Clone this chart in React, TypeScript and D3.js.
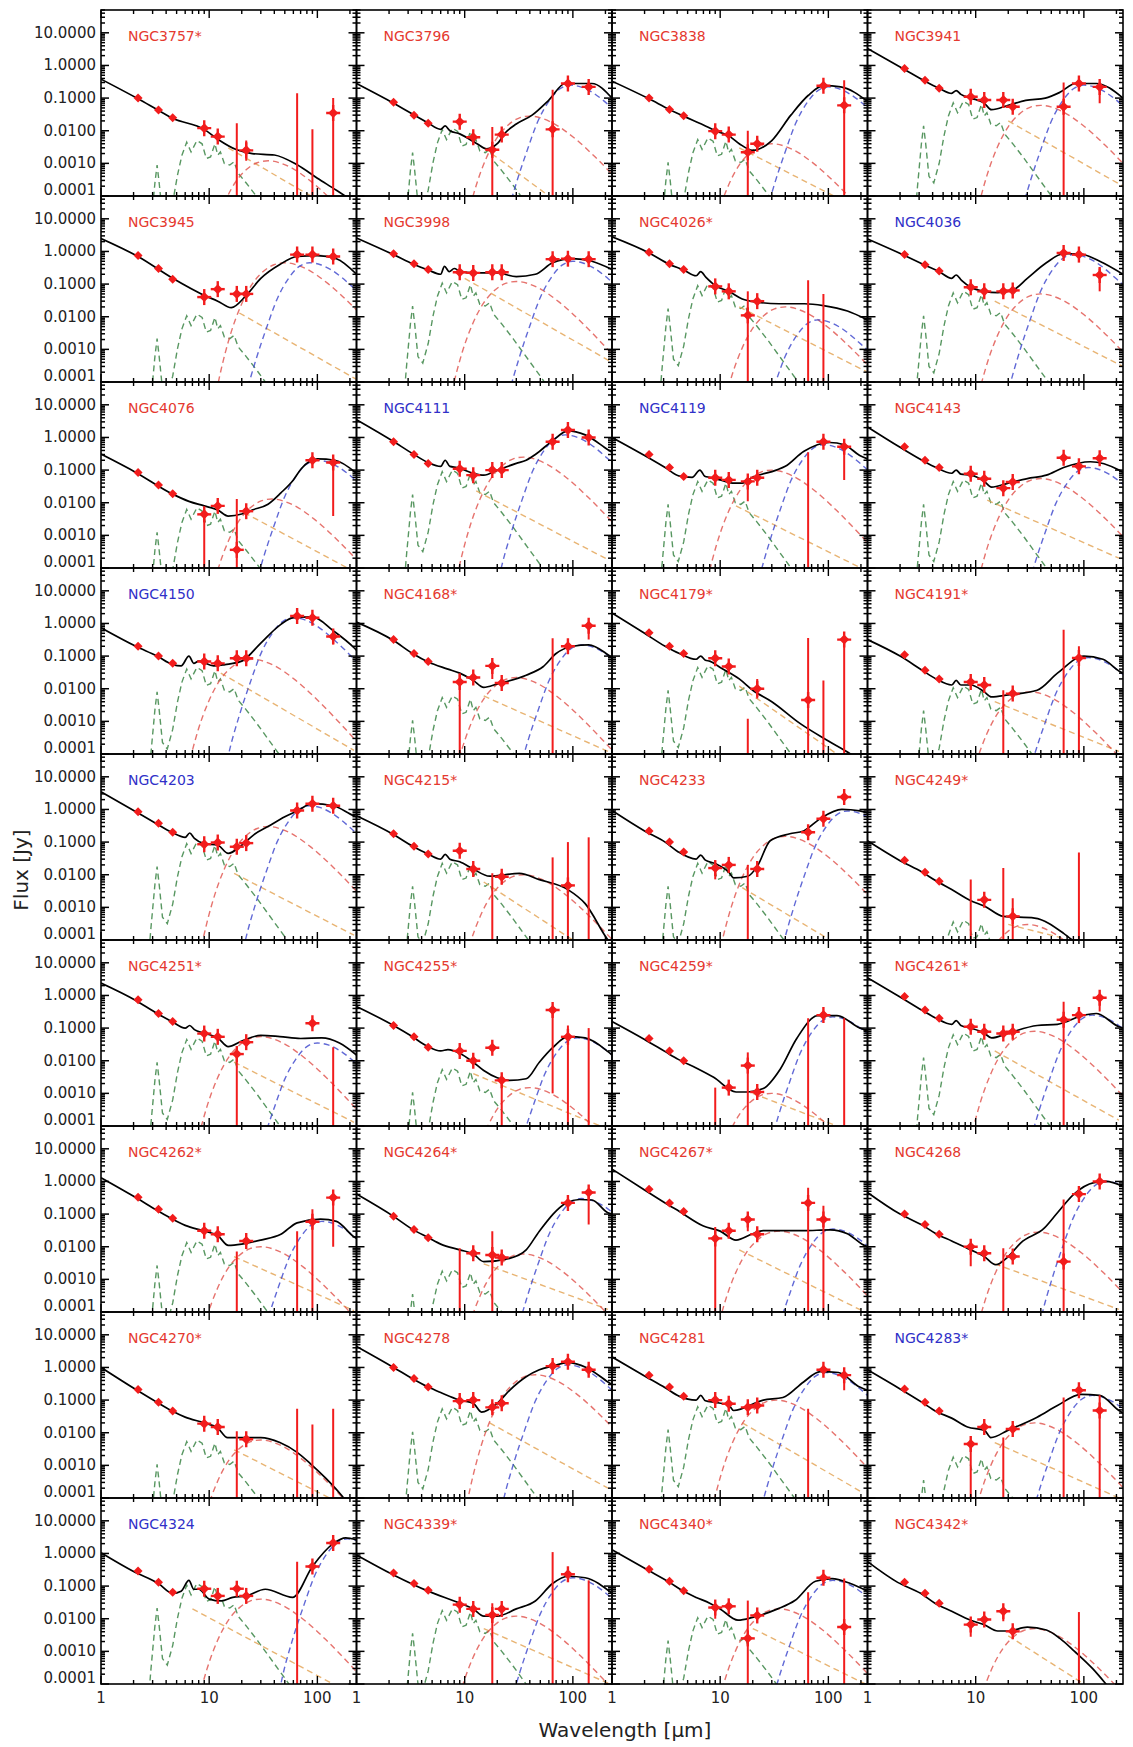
import React from "react";
import * as d3 from "d3";

// galaxy names, row by row
const galaxies = [
  "NGC3757*", "NGC3796", "NGC3838", "NGC3941",
  "NGC3945", "NGC3998", "NGC4026*", "NGC4036",
  "NGC4076", "NGC4111", "NGC4119", "NGC4143",
  "NGC4150", "NGC4168*", "NGC4179*", "NGC4191*",
  "NGC4203", "NGC4215*", "NGC4233", "NGC4249*",
  "NGC4251*", "NGC4255*", "NGC4259*", "NGC4261*",
  "NGC4262*", "NGC4264*", "NGC4267*", "NGC4268",
  "NGC4270*", "NGC4278", "NGC4281", "NGC4283*",
  "NGC4324", "NGC4339*", "NGC4340*", "NGC4342*",
];
const blueGalaxies = ["NGC4036", "NGC4111", "NGC4119", "NGC4150", "NGC4203", "NGC4283*", "NGC4324"];

// photometry: [wavelength um, flux Jy | null, bar low (0 = axis) | null, bar high | null]
type Phot = (number | null)[];
const photometry: Phot[][] = [
  [[2.2,0.1],[3.4,0.043],[4.6,0.025],[9,0.012],[12,0.0066],[18,null,0,0.017],[22,0.0025,0.0012,0.005],[65,null,0,0.14],[90,null,0,0.011],[140,0.035,0,0.1]],
  [[2.2,0.075],[3.4,0.03],[4.6,0.017],[9,0.019],[12,0.0063],[18,0.0026,0,0.013],[22,0.0076],[65,0.011,0,0.18],[90,0.28],[140,0.22]],
  [[2.2,0.1],[3.4,0.045],[4.6,0.029],[9,0.0097],[12,0.0076],[18,0.0022,0,0.01],[22,0.004],[90,0.24],[140,0.06,0,0.35]],
  [[2.2,0.8],[3.4,0.35],[4.6,0.2],[9,0.11],[12,0.087],[18,0.087],[22,0.054],[65,0.054,0,0.3],[90,0.28],[140,0.22,0.07,0.3]],
  [[2.2,0.75],[3.4,0.3],[4.6,0.14],[9,0.04],[12,0.07],[18,0.05],[22,0.05],[65,0.8],[90,0.8],[140,0.7]],
  [[2.2,0.85],[3.4,0.42],[4.6,0.28],[9,0.23],[12,0.22],[18,0.23],[22,0.23],[65,0.58],[90,0.6],[140,0.58]],
  [[2.2,0.94],[3.4,0.42],[4.6,0.28],[9,0.085],[12,0.06],[18,0.011,0,0.06],[22,0.03],[65,null,0,0.13],[90,null,0,0.05]],
  [[2.2,0.8],[3.4,0.39],[4.6,0.25],[9,0.08],[12,0.06],[18,0.06],[22,0.064],[65,0.9],[90,0.8],[140,0.19,0.06,0.3]],
  [[2.2,0.085],[3.4,0.035],[4.6,0.019],[9,0.0044,0,0.006],[12,0.008],[18,0.00036,0,0.013],[22,0.0055],[90,0.2],[140,0.17,0.0039,0.2]],
  [[2.2,0.74],[3.4,0.3],[4.6,0.16],[9,0.11],[12,0.07],[18,0.1],[22,0.1],[65,0.74],[90,1.7],[140,1.0]],
  [[2.2,0.3],[3.4,0.12],[4.6,0.064],[9,0.058],[12,0.05],[18,0.045,0.011,null],[22,0.058],[65,null,0,0.35],[90,0.74],[140,0.52,0.05,null]],
  [[2.2,0.52],[3.4,0.2],[4.6,0.12],[9,0.077],[12,0.054],[18,0.028],[22,0.043],[65,0.24],[90,0.13],[140,0.23]],
  [[2.2,0.2],[3.4,0.1],[4.6,0.06],[9,0.068],[12,0.06],[18,0.086],[22,0.086],[65,1.7],[90,1.5],[140,0.4,0.23,null]],
  [[2.2,0.32],[3.4,0.12],[4.6,0.068],[9,0.016,0,0.03],[12,0.022],[18,0.05,0.02,null],[22,0.015],[65,null,0,0.35],[90,0.2],[140,0.85,0.32,null]],
  [[2.2,0.52],[3.4,0.2],[4.6,0.12],[9,0.086],[12,0.048],[18,null,0,0.0012],[22,0.01,0.005,0.02],[65,0.0045,0,0.36],[90,null,0,0.018],[140,0.32,0,0.4]],
  [[2.2,0.11],[3.4,0.037],[4.6,0.02],[9,0.016],[12,0.013],[18,null,0,0.009],[22,0.0071],[65,null,0,0.64],[90,0.087,0,0.2]],
  [[2.2,0.85],[3.4,0.38],[4.6,0.2],[9,0.086],[12,0.097],[18,0.072],[22,0.093],[65,0.93],[90,1.5],[140,1.3]],
  [[2.2,0.18],[3.4,0.074],[4.6,0.043],[9,0.054],[12,0.015],[18,null,0,0.011],[22,0.0087],[65,null,0,0.034],[90,0.0047,0,0.1],[140,null,0,0.14]],
  [[2.2,0.22],[3.4,0.1],[4.6,0.05],[9,0.016,0.0072,null],[12,0.02],[18,null,0,0.02],[22,0.015],[65,0.2],[90,0.52],[140,2.4]],
  [[2.2,0.028],[3.4,0.012],[4.6,0.0063],[9,null,0,0.0071],[12,0.0017],[18,null,0,0.016],[22,0.00053,0,0.0019],[90,null,0,0.048]],
  [[2.2,0.74],[3.4,0.28],[4.6,0.16],[9,0.068],[12,0.054],[18,0.016,0,null],[22,0.037],[90,0.14],[140,null,0,0.026]],
  [[2.2,0.12],[3.4,0.054],[4.6,0.026],[9,0.02],[12,0.01],[18,0.025],[22,0.0025,0,null],[65,0.36,0.001,null],[90,0.054,0,0.12],[140,null,0,0.1]],
  [[2.2,0.048],[3.4,0.02],[4.6,0.01],[9,null,0,0.0015],[12,0.0015],[18,0.0071,0,0.018],[22,0.0011],[65,null,0,0.2],[90,0.25],[140,null,0,0.2]],
  [[2.2,0.93],[3.4,0.36],[4.6,0.2],[9,0.11],[12,0.077],[18,0.068],[22,0.077],[65,0.18,0,0.64],[90,0.25],[140,0.85,0.32,null]],
  [[2.2,0.33],[3.4,0.14],[4.6,0.074],[9,0.031],[12,0.024],[18,null,0,0.0071],[22,0.015],[65,null,0,0.03],[90,0.058,0,0.14],[140,0.32,0.01,null]],
  [[2.2,0.086],[3.4,0.034],[4.6,0.019],[9,null,0,0.009],[12,0.0063],[18,0.0056,0,0.03],[22,0.0047],[90,0.22],[140,0.46,0.048,null]],
  [[2.2,0.58],[3.4,0.22],[4.6,0.12],[9,0.018,0,0.04],[12,0.031],[18,0.068,0.03,null],[22,0.024],[65,0.22,0,0.64],[90,0.068,0,0.18]],
  [[2.2,0.1],[3.4,0.048],[4.6,0.024],[9,0.01,0.0025,null],[12,0.0063],[18,null,0,0.009],[22,0.005],[65,0.0035,0,0.28],[90,0.41],[140,1.0]],
  [[2.2,0.21],[3.4,0.086],[4.6,0.046],[9,0.019],[12,0.015],[18,null,0,0.011],[22,0.0063],[65,null,0,0.054],[90,null,0,0.018],[140,null,0,0.054]],
  [[2.2,1.0],[3.4,0.46],[4.6,0.25],[9,0.093],[12,0.1],[18,0.06],[22,0.08],[65,1.1],[90,1.5],[140,0.85]],
  [[2.2,0.58],[3.4,0.25],[4.6,0.13],[9,0.1],[12,0.077],[18,0.06],[22,0.068],[65,null,0,0.054],[90,0.85],[140,0.58,0.2,null]],
  [[2.2,0.22],[3.4,0.086],[4.6,0.046],[9,0.0045,0,null],[12,0.015],[18,null,0,0.0071],[22,0.013],[65,null,0,0.12],[90,0.2],[140,0.048,0,0.14]],
  [[2.2,0.29],[3.4,0.13],[4.6,0.065],[9,0.083],[12,0.05],[18,0.083],[22,0.05],[65,null,0,0.56],[90,0.4],[140,2.1]],
  [[2.2,0.25],[3.4,0.12],[4.6,0.075],[9,0.027],[12,0.02],[18,0.013,0,0.03],[22,0.02],[65,null,0,1.1],[90,0.23],[140,null,0,0.15]],
  [[2.2,0.33],[3.4,0.14],[4.6,0.072],[9,0.022,0.01,null],[12,0.024],[18,0.0025,0,0.036],[22,0.0126],[65,null,0,0.065],[90,0.18],[140,0.0056,0,0.17]],
  [[2.2,0.13],[3.4,0.06],[4.6,0.03],[9,0.0066,0.0028,null],[12,0.0095],[18,0.017,0.0083,null],[22,0.0041],[90,null,0,0.016]],
];

// total model SED, [wavelength, flux]
type Pt = [number, number];
const modelTotal: Pt[][] = [
  [[1,0.38],[2.2,0.095],[3.4,0.042],[4.6,0.024],[9,0.011],[12,0.0055],[18,0.0026],[25,0.002],[40,0.0018],[65,0.0009],[100,0.00035],[150,0.00015],[200,0.00008]],
  [[1,0.28],[2.2,0.07],[4.5,0.018],[6,0.011],[6.6,0.014],[7.3,0.01],[9,0.008],[13,0.004],[16,0.0028],[20,0.004],[24,0.009],[30,0.016],[42,0.03],[60,0.087],[85,0.28],[150,0.28],[230,0.1]],
  [[1,0.33],[2.2,0.095],[3.4,0.045],[4.6,0.028],[7,0.015],[9,0.01],[12,0.007],[15,0.004],[20,0.0025],[30,0.005],[45,0.03],[65,0.12],[90,0.24],[130,0.22],[230,0.08]],
  [[1,3.3],[2.2,0.75],[3.4,0.33],[4.6,0.2],[6,0.14],[6.6,0.17],[7.3,0.13],[9,0.1],[12,0.07],[14,0.044],[20,0.06],[29,0.085],[44,0.1],[60,0.15],[84,0.28],[130,0.28],[230,0.1]],
  [[1,2.5],[2.2,0.7],[4.6,0.15],[9,0.045],[12,0.03],[16,0.019],[22,0.045],[30,0.15],[45,0.4],[65,0.7],[100,0.75],[150,0.6],[230,0.2]],
  [[1,2.6],[2.2,0.8],[3.4,0.4],[4.6,0.27],[6,0.2],[6.5,0.35],[7.2,0.24],[8,0.3],[9,0.25],[12,0.22],[20,0.22],[30,0.17],[45,0.2],[65,0.45],[100,0.6],[150,0.5],[230,0.28]],
  [[1,2.8],[2.2,0.9],[3.4,0.4],[4.6,0.27],[6,0.18],[6.6,0.24],[7.4,0.16],[9,0.09],[12,0.06],[16,0.035],[22,0.028],[35,0.025],[60,0.025],[90,0.022],[150,0.015],[230,0.008]],
  [[1,2.4],[2.2,0.75],[3.4,0.38],[4.6,0.24],[6,0.15],[6.6,0.19],[7.4,0.13],[9,0.08],[12,0.06],[16,0.055],[22,0.065],[30,0.15],[45,0.45],[65,0.85],[90,0.85],[140,0.5],[230,0.2]],
  [[1,0.31],[2.1,0.085],[4.5,0.019],[6.5,0.011],[9,0.008],[12,0.006],[15,0.0039],[20,0.0045],[25,0.006],[35,0.009],[46,0.02],[60,0.05],[71,0.11],[100,0.22],[145,0.2],[230,0.08]],
  [[1,3.5],[2.2,0.75],[3.3,0.32],[4.6,0.17],[6,0.13],[6.6,0.2],[7.3,0.13],[8.5,0.12],[12,0.08],[15,0.07],[20,0.1],[30,0.16],[37,0.2],[45,0.3],[65,0.8],[90,1.6],[130,1.2],[211,0.42],[230,0.35]],
  [[1,1.0],[2,0.28],[3.1,0.12],[4.2,0.065],[5.5,0.06],[6.5,0.1],[7.2,0.065],[8,0.06],[10,0.05],[13,0.04],[16,0.04],[20,0.06],[33,0.1],[40,0.13],[59,0.37],[103,0.7],[140,0.6],[195,0.28],[230,0.22]],
  [[1,2.1],[2,0.5],[3.2,0.2],[4.3,0.12],[6,0.08],[6.6,0.1],[7.3,0.075],[9,0.07],[12,0.045],[14,0.03],[20,0.04],[30,0.055],[45,0.07],[65,0.12],[115,0.18],[211,0.1],[230,0.085]],
  [[1,0.74],[2.1,0.2],[3.3,0.1],[4.6,0.055],[5.5,0.05],[6.5,0.1],[7.2,0.06],[8,0.07],[11,0.05],[14,0.055],[20,0.07],[30,0.25],[46,0.94],[60,1.5],[90,1.6],[140,0.6],[218,0.18],[230,0.15]],
  [[1,1.1],[2.2,0.3],[3.3,0.12],[4.6,0.066],[7,0.04],[9,0.03],[12,0.018],[15,0.011],[20,0.014],[37,0.026],[53,0.047],[70,0.12],[100,0.2],[140,0.22],[211,0.11],[230,0.09]],
  [[1,2.1],[2,0.5],[3.1,0.2],[4.2,0.12],[6,0.08],[6.6,0.1],[7.3,0.075],[8,0.07],[10,0.045],[15,0.02],[20,0.009],[30,0.004],[55,0.00085],[100,0.00025],[160,0.0001],[230,0.00004]],
  [[1,0.32],[2,0.1],[3.2,0.037],[4.3,0.02],[6,0.013],[6.6,0.018],[7.3,0.013],[9,0.013],[12,0.008],[14,0.0056],[20,0.0065],[37,0.009],[57,0.03],[100,0.1],[150,0.08],[211,0.035],[230,0.03]],
  [[1,3.5],[2.1,0.85],[3.2,0.38],[4.5,0.2],[6,0.14],[6.6,0.19],[7.3,0.13],[9,0.09],[12,0.08],[15,0.045],[20,0.08],[26,0.17],[35,0.3],[50,0.6],[65,0.9],[90,1.5],[140,1.3],[218,0.64],[230,0.6]],
  [[1,0.64],[2.2,0.17],[3.3,0.075],[4.6,0.043],[6,0.03],[6.6,0.042],[7.3,0.03],[9,0.025],[12,0.015],[17,0.009],[32,0.011],[49,0.0071],[90,0.0035],[130,0.0013],[211,0.0001],[230,0.00007]],
  [[1,0.93],[2,0.22],[3.1,0.1],[4.1,0.05],[6,0.03],[6.6,0.04],[7.3,0.028],[9,0.022],[12,0.012],[13.3,0.008],[18,0.009],[22,0.018],[29,0.11],[44,0.18],[59,0.22],[84,0.52],[133,1.0],[195,0.9],[230,0.8]],
  [[1,0.11],[2,0.027],[3.2,0.012],[4.3,0.0065],[6,0.0035],[9,0.0016],[12,0.0011],[18,0.00053],[35,0.00047],[65,0.00016],[78,0.0001],[100,0.00005]],
  [[1,2.4],[2.1,0.7],[3.3,0.28],[4.5,0.16],[6,0.1],[6.6,0.12],[7.3,0.09],[9,0.07],[12,0.05],[15,0.027],[20,0.04],[30,0.06],[45,0.055],[70,0.048],[110,0.05],[160,0.035],[230,0.015]],
  [[1,0.46],[2.2,0.12],[3.3,0.054],[4.5,0.028],[6,0.02],[7,0.022],[9,0.017],[12,0.009],[15,0.005],[20,0.003],[26,0.0025],[37,0.0028],[49,0.009],[65,0.025],[90,0.055],[130,0.05],[211,0.019],[230,0.015]],
  [[1,0.16],[2,0.045],[3.1,0.019],[4.1,0.011],[6,0.006],[8.7,0.0031],[14,0.0011],[18,0.0011],[25,0.0014],[36,0.0056],[51,0.048],[80,0.24],[120,0.24],[195,0.1],[230,0.08]],
  [[1,3.5],[2,0.9],[3.2,0.35],[4.3,0.2],[6,0.13],[6.6,0.17],[7.3,0.12],[9,0.1],[12,0.07],[14,0.05],[20,0.07],[37,0.12],[57,0.13],[100,0.25],[130,0.28],[211,0.11],[230,0.1]],
  [[1,1.3],[2.1,0.32],[3.3,0.13],[4.5,0.072],[6,0.045],[9,0.03],[12,0.022],[15,0.011],[20,0.012],[30,0.016],[46,0.024],[65,0.054],[107,0.07],[150,0.06],[218,0.02],[230,0.018]],
  [[1,0.41],[2.2,0.085],[3.3,0.034],[4.6,0.019],[6,0.012],[9,0.008],[12,0.006],[15,0.0035],[26,0.0044],[37,0.008],[49,0.03],[87,0.22],[115,0.28],[150,0.27],[211,0.11],[230,0.1]],
  [[1,2.4],[2,0.55],[3.1,0.22],[4.2,0.12],[7,0.043],[10,0.03],[14,0.016],[20,0.025],[25,0.031],[59,0.031],[104,0.033],[150,0.025],[205,0.012],[230,0.01]],
  [[1,0.46],[2,0.1],[3.2,0.046],[4.3,0.025],[6,0.015],[9,0.008],[12,0.005],[15.3,0.0028],[20,0.005],[26,0.013],[43,0.037],[57,0.11],[81,0.41],[124,0.92],[160,1.0],[230,0.7]],
  [[1,1.0],[2.1,0.21],[3.3,0.085],[4.5,0.047],[6,0.03],[9,0.02],[12,0.014],[14.8,0.0071],[30,0.0071],[45,0.005],[65,0.0025],[87,0.0011],[120,0.0004],[164,0.00013],[190,0.00007]],
  [[1,4.4],[2.2,1.0],[3.3,0.45],[4.6,0.25],[6,0.17],[9,0.1],[12,0.08],[14.3,0.043],[20,0.08],[26,0.2],[37,0.52],[49,0.85],[65,1.1],[90,1.4],[133,1.0],[211,0.36],[230,0.3]],
  [[1,2.1],[2,0.55],[3.1,0.24],[4.2,0.13],[6,0.1],[6.6,0.14],[7.3,0.095],[9,0.085],[12,0.07],[13.3,0.048],[25,0.1],[38,0.12],[59,0.36],[84,0.75],[124,0.7],[195,0.25],[230,0.2]],
  [[1,0.85],[2,0.22],[3.2,0.085],[4.3,0.045],[6,0.028],[8.4,0.015],[12,0.012],[13.8,0.0071],[20,0.012],[37,0.03],[57,0.068],[94,0.15],[140,0.14],[211,0.048],[230,0.04]],
  [[1,1.05],[2,0.28],[3.4,0.12],[4.6,0.06],[5.5,0.07],[6.5,0.15],[7.2,0.08],[8,0.08],[10,0.04],[13,0.035],[16.5,0.045],[22,0.05],[33,0.08],[59,0.045],[90,0.4],[140,2.0],[183,3.0],[230,2.6]],
  [[1,0.9],[2.2,0.22],[4.6,0.07],[9,0.03],[12,0.02],[15,0.012],[20,0.012],[30,0.02],[45,0.035],[65,0.12],[90,0.2],[130,0.18],[230,0.06]],
  [[1,1.3],[2.1,0.32],[3.4,0.13],[4.5,0.072],[6,0.045],[8,0.03],[10,0.02],[14.6,0.009],[20,0.011],[34,0.02],[49,0.036],[76,0.14],[108,0.17],[160,0.12],[230,0.07]],
  [[1,0.56],[1.9,0.13],[3.1,0.06],[4.2,0.03],[6,0.017],[9,0.009],[12,0.0065],[16,0.0042],[20,0.0042],[30,0.0055],[45,0.0045],[60,0.0025],[82,0.001],[120,0.0003],[160,0.0001],[190,0.00005]],
];

// PAH template: [wavelength, log flux relative to 7.7 um peak]
const pahShape: Pt[] = [
  [2.6,-4.5],[2.9,-2.6],[3.15,-1.3],[3.3,-0.75],[3.45,-1.3],[3.7,-2.3],[4.1,-2.5],[4.6,-1.9],[5.1,-1.05],
  [5.6,-0.45],[6.2,-0.05],[6.8,-0.35],[7.7,0],[8.6,-0.1],[9.4,-0.55],[10.3,-0.5],[11.3,-0.1],[12.0,-0.45],
  [12.7,-0.35],[13.8,-0.7],[15.5,-0.75],[17.0,-0.65],[18.5,-1.0],[22,-1.3],[28,-1.75],[36,-2.25],[50,-2.9],[70,-3.6],[100,-4.3],
];
// dust templates: [log wavelength offset from peak, log flux offset from peak]
const warmShape: Pt[] = [
  [-0.7,-5.17],[-0.6,-3.44],[-0.5,-2.17],[-0.4,-1.27],[-0.3,-0.65],[-0.2,-0.27],[-0.1,-0.06],[0,0],
  [0.2,-0.19],[0.4,-0.64],[0.6,-1.24],[0.8,-1.92],[1.0,-2.65],[1.2,-3.4],
];
const coldShape: Pt[] = [
  [-0.65,-5.0],[-0.6,-4.2],[-0.5,-3.0],[-0.4,-2.0],[-0.3,-1.1],[-0.2,-0.5],[-0.1,-0.12],[0,0],
  [0.1,-0.06],[0.2,-0.22],[0.4,-0.75],[0.6,-1.4],[0.8,-2.1],[1.0,-2.85],
];

const pahAmp = [
  0.005, 0.012, 0.006, 0.08, 0.012, 0.12, 0.1, 0.06, 0.007, 0.1, 0.05, 0.05,
  0.045, 0.006, 0.05, 0.012, 0.1, 0.025, 0.025, 0.0004, 0.05, 0.006, 0, 0.07,
  0.015, 0.002, 0, 0, 0.006, 0.06, 0.07, 0.002, 0.12, 0.02, 0.012, 0,
];
const warmPeak: (Pt | null)[] = [
  [35,0.0012],[40,0.028],[30,0.004],[40,0.06],[50,0.45],[30,0.12],[40,0.02],[40,0.05],
  [38,0.013],[35,0.25],[30,0.1],[40,0.055],[25,0.08],[30,0.022],null,[32,0.008],
  [35,0.3],[35,0.01],[40,0.15],[30,0.0003],[30,0.055],[40,0.0015],[30,0.001],[35,0.08],
  [30,0.01],[35,0.006],[35,0.03],[38,0.028],[30,0.006],[45,0.6],[33,0.1],[35,0.02],
  [30,0.04],[30,0.012],[35,0.02],[35,0.005],
];
const coldPeak: (Pt | null)[] = [
  null,[95,0.25],[100,0.22],[100,0.25],[85,0.45],[100,0.5],[80,0.008],[80,0.8],
  [100,0.2],[85,1.2],[90,0.6],[110,0.12],[60,1.5],[120,0.22],null,[110,0.09],
  [85,1.3],null,[150,0.9],null,[100,0.035],[110,0.05],[110,0.22],[120,0.25],
  [110,0.06],[120,0.3],[110,0.035],[160,1.0],null,[90,1.2],[95,0.7],[120,0.14],
  [190,2.8],[100,0.18],[110,0.15],null,
];
const powerLaw: Pt[][] = [
  [[15,0.003],[200,0.00002]],[[15,0.003],[60,0.0001]],[[15,0.003],[230,0.00003]],[[20,0.02],[230,0.0002]],
  [[19,0.013],[230,0.00012]],[[10,0.15],[230,0.0004]],[[15,0.02],[230,0.0002]],[[15,0.03],[230,0.0003]],
  [[21,0.005],[190,0.0001]],[[12.8,0.023],[211,0.00018]],[[14,0.008],[200,0.0001]],[[12.8,0.012],[211,0.0002]],
  [[12.8,0.03],[218,0.00013]],[[15,0.006],[211,0.00012]],[[15,0.012],[120,0.0001]],[[15,0.004],[211,0.00012]],
  [[17,0.011],[218,0.00014]],[[15,0.006],[100,0.0001]],[[16,0.004],[95,0.00012]],[[20,0.0003],[60,0.00012]],
  [[17,0.009],[218,0.00013]],[[12,0.004],[211,0.00008]],[[20,0.001],[120,0.0001]],[[15,0.02],[211,0.00015]],
  [[17,0.005],[218,0.00011]],[[15,0.003],[211,0.00012]],[[15,0.008],[205,0.00011]],[[15,0.003],[211,0.00012]],
  [[17,0.003],[130,0.0001]],[[17,0.02],[211,0.0002]],[[16,0.02],[205,0.00015]],[[15,0.005],[211,0.0001]],
  [[7,0.02],[140,0.0001]],[[15,0.005],[220,0.0001]],[[20,0.005],[220,0.0001]],[[20,0.003],[100,0.0001]],
];

const yTicks = [10, 1, 0.1, 0.01, 0.001, 0.0001];
const yTickLabels = ["10.0000", "1.0000", "0.1000", "0.0100", "0.0010", "0.0001"];
const xTicks = [1, 10, 100];
const xTickLabels = ["1", "10", "100"];

const W = 1133, H = 1747;
const LEFT = 101, TOP = 10, PW = 255.5, PH = 186, NCOL = 4;
const FONT = "'DejaVu Sans', Arial, sans-serif";
const RED = "#f21c1c";

const x = d3.scaleLog().domain([1, 230]).range([0, PW]);
const y = d3.scaleLog().domain([1e-4, 50]).range([PH, 0]);

const smooth = d3.line<Pt>().x((d) => x(d[0])).y((d) => y(d[1])).curve(d3.curveMonotoneX);
const jagged = d3.line<Pt>().x((d) => x(d[0])).y((d) => y(d[1]));

const minorX = d3.range(0, 3).flatMap((e) => d3.range(1, 10).map((m) => m * 10 ** e)).filter((v) => v <= 230);
const minorY = d3.range(-4, 2).flatMap((e) => d3.range(1, 10).map((m) => m * 10 ** e)).filter((v) => v <= 50);
const isMajor = (v: number) => Math.abs(Math.log10(v) - Math.round(Math.log10(v))) < 1e-6;

function fromShape(shape: Pt[], peak: Pt): Pt[] {
  return shape.map(([dl, df]) => [peak[0] * 10 ** dl, peak[1] * 10 ** df] as Pt);
}

function Marker({ cx, cy, small }: { cx: number; cy: number; small: boolean }) {
  const r = small ? 4.5 : 5;
  return (
    <g transform={`translate(${cx},${cy})`}>
      {!small && (
        <>
          <line y1={-8} y2={8} stroke={RED} strokeWidth={2.4} />
          <line x1={-7} x2={7} stroke={RED} strokeWidth={2.4} />
        </>
      )}
      <path d={`M0,${-r}L${r},0L0,${r}L${-r},0Z`} fill={RED} />
    </g>
  );
}

function Panel({ i }: { i: number }) {
  const r = Math.floor(i / NCOL);
  const c = i % NCOL;
  const x0 = LEFT + c * PW;
  const y0 = TOP + r * PH;
  const clipId = `clip-${i}`;
  const name = galaxies[i];
  const dash = "6,4";
  return (
    <g transform={`translate(${x0},${y0})`}>
      <defs>
        <clipPath id={clipId}>
          <rect width={PW} height={PH} />
        </clipPath>
      </defs>
      <g clipPath={`url(#${clipId})`} fill="none">
        {pahAmp[i] > 0 && (
          <path d={jagged(pahShape.map(([l, f]) => [l, pahAmp[i] * 10 ** f] as Pt)) || ""}
            stroke="#2e7d3a" strokeWidth={1.4} strokeDasharray={dash} opacity={0.8} />
        )}
        {powerLaw[i] && (
          <path d={jagged(powerLaw[i]) || ""} stroke="#e2a150" strokeWidth={1.4} strokeDasharray={dash} opacity={0.8} />
        )}
        {warmPeak[i] && (
          <path d={smooth(fromShape(warmShape, warmPeak[i] as Pt)) || ""} stroke="#e0504a" strokeWidth={1.4} strokeDasharray={dash} opacity={0.8} />
        )}
        {coldPeak[i] && (
          <path d={smooth(fromShape(coldShape, coldPeak[i] as Pt)) || ""} stroke="#3a44cc" strokeWidth={1.4} strokeDasharray={dash} opacity={0.8} />
        )}
        <path d={smooth(modelTotal[i]) || ""} stroke="#000" strokeWidth={1.7} />
        {photometry[i].map((p, k) => {
          const [l, f, lo, hi] = p as (number | null | undefined)[];
          const px = x(l as number);
          const hasBar = lo != null || hi != null;
          const yTop = hi != null ? y(hi) : f != null ? y(f) : PH;
          const yBot = lo != null ? (lo === 0 ? PH : y(lo)) : f != null ? y(f) : PH;
          return (
            <g key={k}>
              {hasBar && <line x1={px} x2={px} y1={yTop} y2={yBot} stroke={RED} strokeWidth={2} />}
              {f != null && <Marker cx={px} cy={y(f)} small={(l as number) < 5} />}
            </g>
          );
        })}
      </g>
      {minorX.map((v) => {
        const len = isMajor(v) ? 8 : 4;
        return (
          <g key={`x${v}`} stroke="#000" strokeWidth={1.4}>
            <line x1={x(v)} x2={x(v)} y1={PH} y2={PH - len} />
            <line x1={x(v)} x2={x(v)} y1={0} y2={len} />
          </g>
        );
      })}
      {minorY.map((v) => {
        const len = isMajor(v) ? 8 : 4;
        return (
          <g key={`y${v}`} stroke="#000" strokeWidth={1.5}>
            <line x1={0} x2={len} y1={y(v)} y2={y(v)} />
            <line x1={PW} x2={PW - len} y1={y(v)} y2={y(v)} />
          </g>
        );
      })}
      <rect width={PW} height={PH} fill="none" stroke="#000" strokeWidth={1.6} />
      <text x={27} y={31} fontFamily={FONT} fontSize={14}
        fill={blueGalaxies.includes(name) ? "#3030c8" : "#e5392f"}>{name}</text>
      {c === 0 && yTicks.map((v, k) => (
        <text key={v} x={-5} y={y(v) - (k === yTicks.length - 1 ? 6 : 0)} textAnchor="end"
          dominantBaseline="central" fontFamily={FONT} fontSize={15} fill="#222">{yTickLabels[k]}</text>
      ))}
      {r === 8 && xTicks.map((v, k) => (
        <text key={v} x={x(v)} y={PH + 19} textAnchor="middle" fontFamily={FONT} fontSize={15} fill="#222">{xTickLabels[k]}</text>
      ))}
    </g>
  );
}

export default function App() {
  return (
    <svg width={W} height={H} viewBox={`0 0 ${W} ${H}`}
      style={{ position: "absolute", left: 0, top: 0, background: "#fff" }}>
      <rect width={W} height={H} fill="#fff" />
      {galaxies.map((_, i) => <Panel key={i} i={i} />)}
      <text transform="translate(28,870) rotate(-90)" textAnchor="middle" fontFamily={FONT} fontSize={20} fill="#222">Flux [Jy]</text>
      <text x={625} y={1737} textAnchor="middle" fontFamily={FONT} fontSize={20} fill="#222">Wavelength [µm]</text>
    </svg>
  );
}
